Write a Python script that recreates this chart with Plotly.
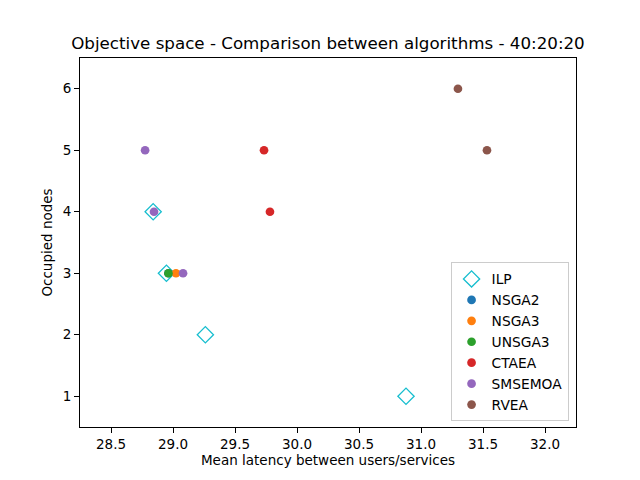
import plotly.graph_objects as go

ilp_x = [28.84, 28.947, 29.261, 30.879]
ilp_y = [4, 3, 2, 1]
nsga2_x = [28.963]
nsga2_y = [3]
nsga3_x = [29.024]
nsga3_y = [3]
unsga3_x = [28.963]
unsga3_y = [3]
ctaea_x = [29.734, 29.782]
ctaea_y = [5, 4]
smsemoa_x = [28.775, 28.847, 29.081]
smsemoa_y = [5, 4, 3]
rvea_x = [31.298, 31.532]
rvea_y = [6, 5]

series = [
    ("NSGA2", nsga2_x, nsga2_y, "#1f77b4"),
    ("NSGA3", nsga3_x, nsga3_y, "#ff7f0e"),
    ("UNSGA3", unsga3_x, unsga3_y, "#2ca02c"),
    ("CTAEA", ctaea_x, ctaea_y, "#d62728"),
    ("SMSEMOA", smsemoa_x, smsemoa_y, "#9467bd"),
    ("RVEA", rvea_x, rvea_y, "#8c564b"),
]

fig = go.Figure()
fig.add_trace(go.Scatter(x=ilp_x, y=ilp_y, mode="markers", name="ILP",
                         marker=dict(symbol="diamond-open", size=12.5, color="#17becf",
                                     line=dict(width=1.3, color="#17becf"))))
for name, xs, ys, c in series:
    fig.add_trace(go.Scatter(x=xs, y=ys, mode="markers", name=name,
                             marker=dict(symbol="circle", size=8.7, color=c, line=dict(width=0))))

axis_common = dict(showline=True, linecolor="black", linewidth=1, mirror=True,
                   ticks="outside", ticklen=5, tickcolor="black", showgrid=False,
                   zeroline=False, tickfont=dict(size=13.5, color="black"))
fig.update_layout(
    width=640, height=480,
    margin=dict(l=72, r=72, t=50, b=61),
    paper_bgcolor="white", plot_bgcolor="white",
    font=dict(family="DejaVu Sans", color="black"),
    title=dict(text="Objective space - Comparison between algorithms - 40:20:20",
               x=0.5, xanchor="center", y=0.926, yanchor="middle", font=dict(size=16.7)),
    xaxis=dict(range=[28.25, 32.25], tickvals=[28.5, 29.0, 29.5, 30.0, 30.5, 31.0, 31.5, 32.0],
               ticktext=["28.5", "29.0", "29.5", "30.0", "30.5", "31.0", "31.5", "32.0"],
               title=dict(text="Mean latency between users/services", font=dict(size=13.5), standoff=4),
               **axis_common),
    yaxis=dict(range=[0.5, 6.5], tickvals=[1, 2, 3, 4, 5, 6],
               title=dict(text="Occupied nodes", font=dict(size=13.5), standoff=6),
               **axis_common),
    legend=dict(x=0.985, y=0.015, xanchor="right", yanchor="bottom",
                bgcolor="white", bordercolor="#cccccc", borderwidth=1,
                font=dict(size=13.8), itemsizing="trace", tracegroupgap=0),
    showlegend=True,
)

fig.write_html("out.html")
